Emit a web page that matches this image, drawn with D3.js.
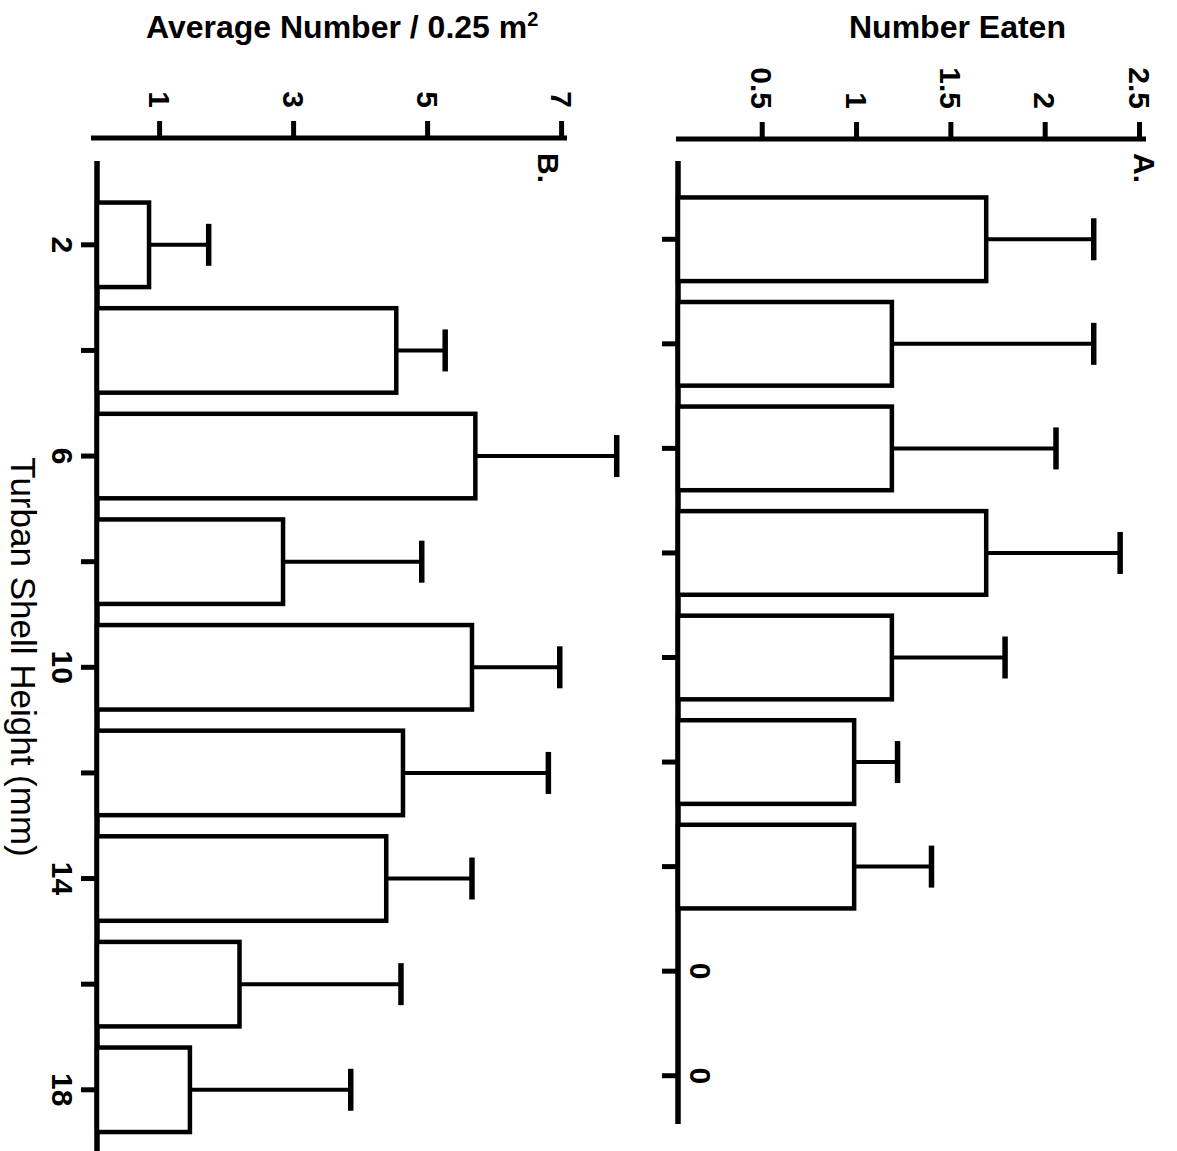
<!DOCTYPE html>
<html>
<head>
<meta charset="utf-8">
<script src="https://cdn.jsdelivr.net/npm/d3@7"></script>
<style>
  html, body { margin: 0; padding: 0; background: #fff; }
  svg { display: block; font-family: "Liberation Sans", Arial, Helvetica, sans-serif; }
</style>
</head>
<body>
<svg id="chart" width="1177" height="1151"></svg>
<script>
// Turban shell height classes (mm)
const shellHeights = [2, 4, 6, 8, 10, 12, 14, 16, 18];
const labelledHeights = [2, 6, 10, 14, 18];

// A. number of turban shells eaten (mean and SE) per size class
const eatenMean = [1.69, 1.19, 1.19, 1.69, 1.19, 0.99, 0.99, 0, 0];
const eatenSE   = [0.57, 1.07, 0.87, 0.71, 0.60, 0.23, 0.41, 0, 0];
const eatenTicks = [0.5, 1, 1.5, 2, 2.5];

// B. field density, average number per 0.25 m² quadrat (mean and SE)
const densityMean = [0.85, 4.54, 5.72, 2.85, 5.67, 4.64, 4.39, 2.20, 1.46];
const densitySE   = [0.89, 0.73, 2.11, 2.07, 1.31, 2.17, 1.28, 2.41, 2.40];
const densityTicks = [1, 3, 5, 7];

const svg = d3.select("#chart");
const numFont = 30;

function drawPanel(cfg) {
  const g = svg.append("g");
  const x = d3.scaleLinear().domain(cfg.domain).range(cfg.range);
  const y = d3.scaleBand().domain(shellHeights).range(cfg.bandRange)
    .paddingInner(0.2).paddingOuter(0.1);
  const base = cfg.baseX;
  const rows = shellHeights.map((h, i) => ({ h, v: cfg.mean[i], se: cfg.se[i] }));

  // value axis along the top
  const ax = g.append("g")
    .attr("transform", `translate(0,${cfg.axisY})`)
    .call(d3.axisTop(x).tickValues(cfg.ticks).tickSize(17).tickSizeOuter(0)
      .tickFormat(d3.format("~g")));
  ax.select(".domain").remove();
  ax.selectAll(".tick line").attr("stroke", "#000").attr("stroke-width", 5);
  ax.selectAll(".tick text")
    .attr("transform", "rotate(90)")
    .attr("x", -30).attr("y", 0).attr("dy", "0.36em")
    .attr("text-anchor", "end")
    .attr("font-size", numFont).attr("font-weight", "bold")
    .attr("font-family", "Liberation Sans, Arial, sans-serif")
    .attr("fill", "#000");
  g.append("line")
    .attr("x1", cfg.axisX0).attr("x2", cfg.axisX1)
    .attr("y1", cfg.axisY).attr("y2", cfg.axisY)
    .attr("stroke", "#000").attr("stroke-width", 5);

  // category axis
  const cy = g.append("g")
    .attr("transform", `translate(${base},0)`)
    .call(d3.axisLeft(y).tickSize(16).tickSizeOuter(0)
      .tickFormat(d => (cfg.catLabels && labelledHeights.includes(d)) ? d : ""));
  cy.select(".domain").remove();
  cy.selectAll(".tick line").attr("stroke", "#000").attr("stroke-width", 5);
  cy.selectAll(".tick text")
    .attr("transform", "rotate(90)")
    .attr("x", 0).attr("y", 45).attr("dy", 0)
    .attr("text-anchor", "middle")
    .attr("font-size", numFont).attr("font-weight", "bold")
    .attr("font-family", "Liberation Sans, Arial, sans-serif")
    .attr("fill", "#000");
  g.append("line")
    .attr("x1", base).attr("x2", base)
    .attr("y1", cfg.catY0).attr("y2", cfg.catY1)
    .attr("stroke", "#000").attr("stroke-width", 5.5);

  const nonZero = rows.filter(d => d.v > 0);

  // error bars (upper arm only)
  g.selectAll(".err").data(nonZero).enter().append("line")
    .attr("x1", d => x(d.v)).attr("x2", d => x(d.v + d.se))
    .attr("y1", d => y(d.h) + y.bandwidth() / 2)
    .attr("y2", d => y(d.h) + y.bandwidth() / 2)
    .attr("stroke", "#000").attr("stroke-width", 4);
  g.selectAll(".cap").data(nonZero).enter().append("line")
    .attr("x1", d => x(d.v + d.se)).attr("x2", d => x(d.v + d.se))
    .attr("y1", d => y(d.h) + y.bandwidth() / 2 - 21)
    .attr("y2", d => y(d.h) + y.bandwidth() / 2 + 21)
    .attr("stroke", "#000").attr("stroke-width", 5.5);

  // bars
  g.selectAll(".bar").data(nonZero).enter().append("rect")
    .attr("x", base).attr("width", d => x(d.v) - base)
    .attr("y", d => y(d.h)).attr("height", y.bandwidth())
    .attr("fill", "#fff").attr("stroke", "#000").attr("stroke-width", 4.5);

  // value labels for empty classes
  g.selectAll(".zero").data(rows.filter(d => d.v === 0)).enter().append("text")
    .attr("transform", d => `translate(${base + 12},${y(d.h) + y.bandwidth() / 2}) rotate(90)`)
    .attr("text-anchor", "middle")
    .attr("font-size", numFont).attr("font-weight", "bold")
    .text(d => d3.format("d")(d.v));

  // panel letter
  g.append("text")
    .attr("transform", `translate(${cfg.letterX},153) rotate(90)`)
    .attr("font-size", numFont).attr("font-weight", "bold")
    .text(cfg.letter);

  // panel title
  const t = g.append("text")
    .attr("x", cfg.titleX).attr("y", 38)
    .attr("font-size", 32).attr("font-weight", "bold");
  cfg.title(t);
}

drawPanel({
  domain: [0, 2.5], range: [667.4, 1139],
  bandRange: [187, 1128],
  baseX: 678, axisY: 139, axisX0: 676, axisX1: 1146,
  catY0: 161, catY1: 1124,
  ticks: eatenTicks, mean: eatenMean, se: eatenSE,
  catLabels: false, letter: "A.", letterX: 1134,
  titleX: 849,
  title: t => t.text("Number Eaten")
});

drawPanel({
  domain: [0, 7], range: [92.1, 561.1],
  bandRange: [192, 1142.6],
  baseX: 97, axisY: 138, axisX0: 91, axisX1: 567,
  catY0: 161, catY1: 1151,
  ticks: densityTicks, mean: densityMean, se: densitySE,
  catLabels: true, letter: "B.", letterX: 538,
  titleX: 146,
  title: t => {
    t.append("tspan").text("Average Number / 0.25 m");
    t.append("tspan").attr("font-size", 20).attr("dy", -12).text("2");
  }
});

// shared category axis title
svg.append("text")
  .attr("transform", "translate(11,657) rotate(90)")
  .attr("text-anchor", "middle")
  .attr("font-size", 35)
  .text("Turban Shell Height (mm)");
</script>
</body>
</html>
